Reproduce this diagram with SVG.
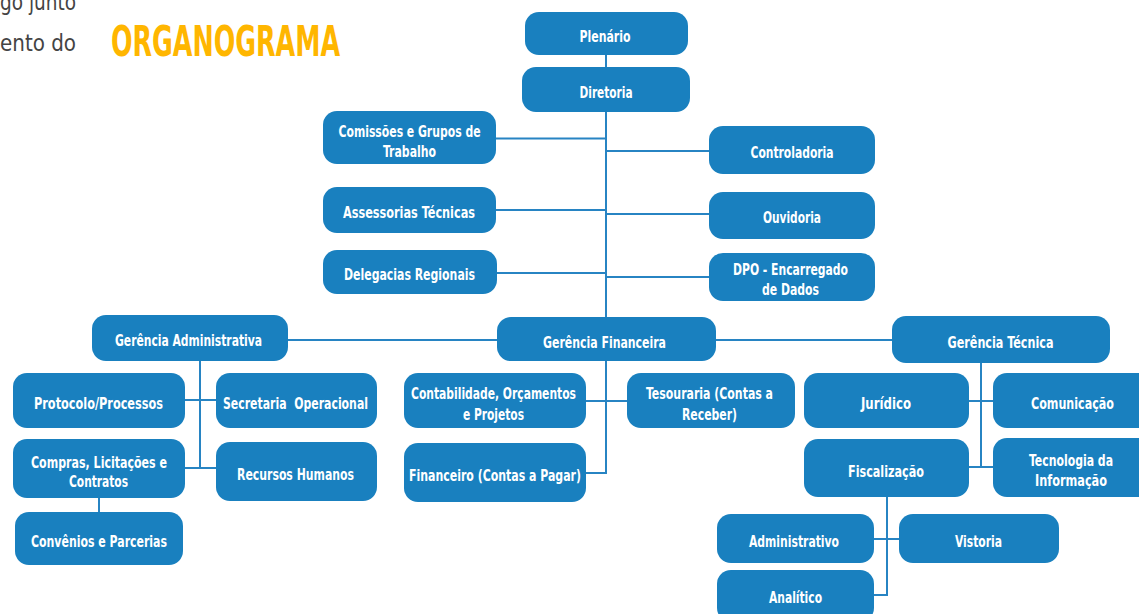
<svg xmlns="http://www.w3.org/2000/svg" width="1139" height="614" viewBox="0 0 1139 614">
<style>
.n rect{fill:#1980BF;}
.n text{fill:#fff;font-family:"DejaVu Sans Condensed","DejaVu Sans","Liberation Sans",sans-serif;font-stretch:condensed;font-weight:bold;font-size:16px;text-anchor:middle;}
.c line{stroke:#2784C3;stroke-width:2;fill:none;}
.intro{fill:#444;font-family:"DejaVu Sans Condensed","DejaVu Sans",sans-serif;font-stretch:condensed;font-size:23px;text-anchor:end;}
.title{fill:#FFB600;font-family:"DejaVu Sans Condensed","DejaVu Sans",sans-serif;font-stretch:condensed;font-weight:bold;font-size:42px;}
</style>
<rect width="1139" height="614" fill="#fff"/>
<text class="intro" x="76" y="10" textLength="76" lengthAdjust="spacingAndGlyphs">go junto</text>
<text class="intro" x="76" y="51" textLength="76" lengthAdjust="spacingAndGlyphs">ento do</text>
<text class="title" x="111" y="56" textLength="229" lengthAdjust="spacingAndGlyphs">ORGANOGRAMA</text>
<g id="connectors" class="c">
<line x1="606" y1="55" x2="606" y2="67"/>
<line x1="606" y1="112" x2="606" y2="317"/>
<line x1="496" y1="138.5" x2="606" y2="138.5"/>
<line x1="606" y1="151" x2="709" y2="151"/>
<line x1="496" y1="210" x2="606" y2="210"/>
<line x1="606" y1="214" x2="709" y2="214"/>
<line x1="497" y1="273" x2="606" y2="273"/>
<line x1="606" y1="277" x2="709" y2="277"/>
<line x1="288" y1="340" x2="497" y2="340"/>
<line x1="716" y1="340" x2="892" y2="340"/>
<line x1="606" y1="361" x2="606" y2="474"/>
<line x1="586" y1="401" x2="627" y2="401"/>
<line x1="586" y1="473" x2="607" y2="473"/>
<line x1="200" y1="361" x2="200" y2="469"/>
<line x1="185" y1="400" x2="216" y2="400"/>
<line x1="185" y1="468" x2="216" y2="468"/>
<line x1="99" y1="498" x2="99" y2="512"/>
<line x1="981" y1="363" x2="981" y2="468"/>
<line x1="969" y1="401" x2="993" y2="401"/>
<line x1="969" y1="467" x2="993" y2="467"/>
<line x1="887" y1="497" x2="887" y2="596"/>
<line x1="874" y1="539" x2="899" y2="539"/>
<line x1="874" y1="595" x2="888" y2="595"/>
</g>
<g id="plenario" class="n"><rect x="525" y="12" width="163" height="43" rx="14"/><text x="605" y="42" textLength="51" lengthAdjust="spacingAndGlyphs">Plenário</text></g>
<g id="diretoria" class="n"><rect x="522" y="67" width="168" height="45" rx="14"/><text x="606" y="97.5" textLength="53" lengthAdjust="spacingAndGlyphs">Diretoria</text></g>
<g id="comissoes" class="n"><rect x="323" y="111" width="173" height="53" rx="14"/><text x="409.5" y="136.5" textLength="142" lengthAdjust="spacingAndGlyphs">Comissões e Grupos de</text><text x="409.5" y="156.5" textLength="53" lengthAdjust="spacingAndGlyphs">Trabalho</text></g>
<g id="controladoria" class="n"><rect x="709" y="126" width="166" height="48" rx="14"/><text x="792" y="158" textLength="83" lengthAdjust="spacingAndGlyphs">Controladoria</text></g>
<g id="assessorias" class="n"><rect x="323" y="187" width="173" height="46" rx="14"/><text x="409" y="218" textLength="132" lengthAdjust="spacingAndGlyphs">Assessorias Técnicas</text></g>
<g id="ouvidoria" class="n"><rect x="709" y="192" width="166" height="47" rx="14"/><text x="792" y="223" textLength="58" lengthAdjust="spacingAndGlyphs">Ouvidoria</text></g>
<g id="delegacias" class="n"><rect x="323" y="250" width="174" height="44" rx="14"/><text x="409.5" y="280" textLength="131" lengthAdjust="spacingAndGlyphs">Delegacias Regionais</text></g>
<g id="dpo" class="n"><rect x="709" y="253" width="166" height="48" rx="14"/><text x="790.5" y="275" textLength="115" lengthAdjust="spacingAndGlyphs">DPO - Encarregado</text><text x="790.5" y="295" textLength="57" lengthAdjust="spacingAndGlyphs">de Dados</text></g>
<g id="gerencia-administrativa" class="n"><rect x="92" y="315" width="196" height="46" rx="14"/><text x="188.5" y="346" textLength="147" lengthAdjust="spacingAndGlyphs">Gerência Administrativa</text></g>
<g id="gerencia-financeira" class="n"><rect x="497" y="317" width="219" height="44" rx="14"/><text x="604.5" y="347.5" textLength="123" lengthAdjust="spacingAndGlyphs">Gerência Financeira</text></g>
<g id="gerencia-tecnica" class="n"><rect x="892" y="316" width="218" height="47" rx="14"/><text x="1000.5" y="348" textLength="106" lengthAdjust="spacingAndGlyphs">Gerência Técnica</text></g>
<g id="protocolo" class="n"><rect x="13" y="373" width="172" height="55" rx="14"/><text x="98.5" y="409" textLength="129" lengthAdjust="spacingAndGlyphs">Protocolo/Processos</text></g>
<g id="secretaria" class="n"><rect x="216" y="373" width="161" height="55" rx="14"/><text x="295.5" y="409" xml:space="preserve" textLength="145" lengthAdjust="spacingAndGlyphs">Secretaria  Operacional</text></g>
<g id="compras" class="n"><rect x="13" y="439" width="172" height="59" rx="14"/><text x="99" y="468" textLength="136" lengthAdjust="spacingAndGlyphs">Compras, Licitações e</text><text x="98.5" y="487" textLength="59" lengthAdjust="spacingAndGlyphs">Contratos</text></g>
<g id="recursos-humanos" class="n"><rect x="216" y="442" width="161" height="59" rx="14"/><text x="295.5" y="480" textLength="117" lengthAdjust="spacingAndGlyphs">Recursos Humanos</text></g>
<g id="convenios" class="n"><rect x="15" y="512" width="168" height="53" rx="14"/><text x="99" y="546.5" textLength="136" lengthAdjust="spacingAndGlyphs">Convênios e Parcerias</text></g>
<g id="contabilidade" class="n"><rect x="404" y="373" width="182" height="55" rx="14"/><text x="493.5" y="399" textLength="165" lengthAdjust="spacingAndGlyphs">Contabilidade, Orçamentos</text><text x="493.5" y="420" textLength="61" lengthAdjust="spacingAndGlyphs">e Projetos</text></g>
<g id="tesouraria" class="n"><rect x="627" y="373" width="168" height="55" rx="14"/><text x="709.5" y="399" textLength="127" lengthAdjust="spacingAndGlyphs">Tesouraria (Contas a</text><text x="709.5" y="420" textLength="55" lengthAdjust="spacingAndGlyphs">Receber)</text></g>
<g id="financeiro" class="n"><rect x="404" y="443" width="182" height="59" rx="14"/><text x="495" y="481" textLength="172" lengthAdjust="spacingAndGlyphs">Financeiro (Contas a Pagar)</text></g>
<g id="juridico" class="n"><rect x="804" y="373" width="165" height="55" rx="14"/><text x="886" y="409" textLength="50" lengthAdjust="spacingAndGlyphs">Jurídico</text></g>
<g id="comunicacao" class="n"><rect x="993" y="373" width="160" height="55" rx="14"/><text x="1072.5" y="409" textLength="83" lengthAdjust="spacingAndGlyphs">Comunicação</text></g>
<g id="fiscalizacao" class="n"><rect x="804" y="439" width="165" height="58" rx="14"/><text x="886" y="477" textLength="76" lengthAdjust="spacingAndGlyphs">Fiscalização</text></g>
<g id="tecnologia" class="n"><rect x="993" y="438" width="160" height="59" rx="14"/><text x="1071" y="466" textLength="84" lengthAdjust="spacingAndGlyphs">Tecnologia da</text><text x="1071" y="486" textLength="72" lengthAdjust="spacingAndGlyphs">Informação</text></g>
<g id="administrativo" class="n"><rect x="717" y="514" width="157" height="49" rx="14"/><text x="794" y="547" textLength="90" lengthAdjust="spacingAndGlyphs">Administrativo</text></g>
<g id="vistoria" class="n"><rect x="899" y="514" width="160" height="49" rx="14"/><text x="978.5" y="547" textLength="47" lengthAdjust="spacingAndGlyphs">Vistoria</text></g>
<g id="analitico" class="n"><rect x="717" y="570" width="157" height="52" rx="14"/><text x="795.5" y="603" textLength="53" lengthAdjust="spacingAndGlyphs">Analítico</text></g>
</svg>
